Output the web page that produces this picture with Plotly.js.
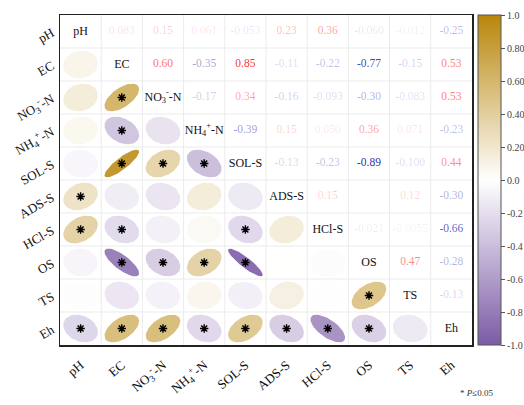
<!DOCTYPE html>
<html><head><meta charset="utf-8">
<script src="https://cdn.plot.ly/plotly-3.0.1.min.js"></script>
<style>html,body{margin:0;padding:0;background:#fff}#chart{width:524px;height:405px}</style>
</head><body><div id="chart"></div>
<script>
const varLabels = ['pH','EC','NO<sub>3</sub><sup>-</sup>-N','NH<sub>4</sub><sup>+</sup>-N','SOL-S','ADS-S','HCl-S','OS','TS','Eh'];
const rowPH  = [1, 0.083, 0.15, 0.061, -0.053, 0.23, 0.36, -0.060, -0.012, -0.25];
const rowEC  = [0.083, 1, 0.60, -0.35, 0.85, -0.11, -0.22, -0.77, -0.15, 0.53];
const rowNO3 = [0.15, 0.60, 1, -0.17, 0.34, -0.16, -0.093, -0.30, -0.083, 0.53];
const rowNH4 = [0.061, -0.35, -0.17, 1, -0.39, 0.15, 0.050, 0.36, 0.071, -0.23];
const rowSOL = [-0.053, 0.85, 0.34, -0.39, 1, -0.13, -0.23, -0.89, -0.100, 0.44];
const rowADS = [0.23, -0.11, -0.16, 0.15, -0.13, 1, 0.15, 0.004, 0.12, -0.30];
const rowHCL = [0.36, -0.22, -0.093, 0.050, -0.23, 0.15, 1, -0.021, -0.0055, -0.66];
const rowOS  = [-0.060, -0.77, -0.30, 0.36, -0.89, 0.004, -0.021, 1, 0.47, -0.28];
const rowTS  = [-0.012, -0.15, -0.083, 0.071, -0.100, 0.12, -0.0055, 0.47, 1, -0.13];
const rowEH  = [-0.25, 0.53, 0.53, -0.23, 0.44, -0.30, -0.66, -0.28, -0.13, 1];
const corr = [rowPH,rowEC,rowNO3,rowNH4,rowSOL,rowADS,rowHCL,rowOS,rowTS,rowEH];
// significant pairs (row, col) in lower triangle
const sigRows = [2,3,4,4,4,5,6,6,6,7,7,7,7,8,9,9,9,9,9,9,9,9];
const sigCols = [1,1,1,2,3,0,0,1,4,1,2,3,4,7,0,1,2,3,4,5,6,7];
const cbTickVals = [-1,-0.8,-0.6,-0.4,-0.2,0,0.2,0.4,0.6,0.8,1];
const cbTickText = ['-1.0','-0.8','-0.6','-0.4','-0.2','0.0','0.20','0.40','0.60','0.80','1.0'];

const NEG = [123,91,166], MID=[255,255,255], POS=[184,134,11];
function colorOf(r){
  const a = Math.abs(r), end = r>=0?POS:NEG;
  const c = MID.map((m,k)=>Math.round(m+(end[k]-m)*a));
  return `rgb(${c[0]},${c[1]},${c[2]})`;
}
function fmt(v){ return Math.abs(v)===0.1 ? v.toFixed(3) : v.toPrecision(2); }
const FONT = "Liberation Serif, serif";
const n = varLabels.length, S = 0.42;
const traces = [];
for(let i=0;i<n;i++){
  for(let j=0;j<i;j++){
    const r = corr[i][j], d = Math.acos(r);
    const xs=[], ys=[];
    for(let k=0;k<=72;k++){
      const t = 2*Math.PI*k/72;
      xs.push(j + S*Math.cos(t+d/2));
      ys.push(i - S*Math.cos(t-d/2));
    }
    traces.push({type:'scatter',mode:'lines',x:xs,y:ys,fill:'toself',fillcolor:colorOf(r),
      line:{width:0,color:colorOf(r)},hoverinfo:'skip',showlegend:false});
  }
}
// upper text
const ux=[],uy=[],ut=[],uc=[];
for(let i=0;i<n;i++) for(let j=i+1;j<n;j++){
  const r=corr[i][j];
  const a = Math.abs(r)<0.005 ? 0 : Math.min(1,0.07+Math.abs(r));
  ux.push(j);uy.push(i);ut.push(fmt(r));
  uc.push(r>=0?`rgba(255,25,25,${a.toFixed(3)})`:`rgba(35,35,165,${a.toFixed(3)})`);
}
traces.push({type:'scatter',mode:'text',x:ux,y:uy,text:ut,textfont:{family:FONT,size:11.5,color:uc},hoverinfo:'skip',showlegend:false});
// diagonal
traces.push({type:'scatter',mode:'text',x:[...Array(n).keys()],y:[...Array(n).keys()],text:varLabels,
  textfont:{family:FONT,size:12,color:'#111'},hoverinfo:'skip',showlegend:false});
// significance
traces.push({type:'scatter',mode:'markers',x:sigCols,y:sigRows,
  marker:{symbol:'asterisk-open',size:7,color:'#000',line:{width:1.4,color:'#000'}},hoverinfo:'skip',showlegend:false});
// colorbar
traces.push({type:'scatter',mode:'markers',x:[0,0],y:[0,0],hoverinfo:'skip',showlegend:false,
  marker:{size:1,opacity:0,color:[-1,1],cmin:-1,cmax:1,
    colorscale:[[0,colorOf(-1)],[0.5,'#ffffff'],[1,colorOf(1)]],showscale:true,
    colorbar:{x:1.0146,xanchor:'left',xpad:0,ypad:0,y:0.5,yanchor:'middle',lenmode:'pixels',len:330,
      thickness:23,outlinewidth:1,outlinecolor:'#555',tickvals:cbTickVals,ticktext:cbTickText,
      ticks:'outside',ticklen:4,tickcolor:'#555',tickfont:{family:FONT,size:10,color:'#444'}}}});

const shapes=[];
for(let k=0;k<n-1;k++){
  shapes.push({type:'line',xref:'x',yref:'y',x0:k+0.5,x1:k+0.5,y0:-0.5,y1:n-0.5,line:{color:'#ebebeb',width:1},layer:'below'});
  shapes.push({type:'line',xref:'x',yref:'y',y0:k+0.5,y1:k+0.5,x0:-0.5,x1:n-0.5,line:{color:'#ebebeb',width:1},layer:'below'});
}
const layout={width:524,height:405,margin:{l:60,r:52,t:15,b:60,autoexpand:false},paper_bgcolor:'#fff',plot_bgcolor:'#fff',
  showlegend:false,shapes,
  xaxis:{range:[-0.5,n-0.5],tickvals:[...Array(n).keys()],ticktext:varLabels,tickangle:-40,showgrid:false,zeroline:false,automargin:false,
    showline:true,mirror:true,linecolor:'#222',linewidth:1.5,ticks:'',ticklabelstandoff:6,tickfont:{family:FONT,size:13,color:'#111'},fixedrange:true},
  yaxis:{range:[n-0.5,-0.5],tickvals:[...Array(n).keys()],ticktext:varLabels,tickangle:-30,showgrid:false,zeroline:false,automargin:false,
    showline:true,mirror:true,linecolor:'#222',linewidth:1.5,ticks:'',ticklabelstandoff:4,tickfont:{family:FONT,size:13,color:'#111'},fixedrange:true},
  annotations:[{xref:'paper',yref:'paper',x:1.056,y:-0.167,text:'* <i>P</i>≤0.05',showarrow:false,
    font:{family:FONT,size:9,color:'#333'}}]
};
Plotly.newPlot('chart',traces,layout,{staticPlot:true,displayModeBar:false});
</script></body></html>
